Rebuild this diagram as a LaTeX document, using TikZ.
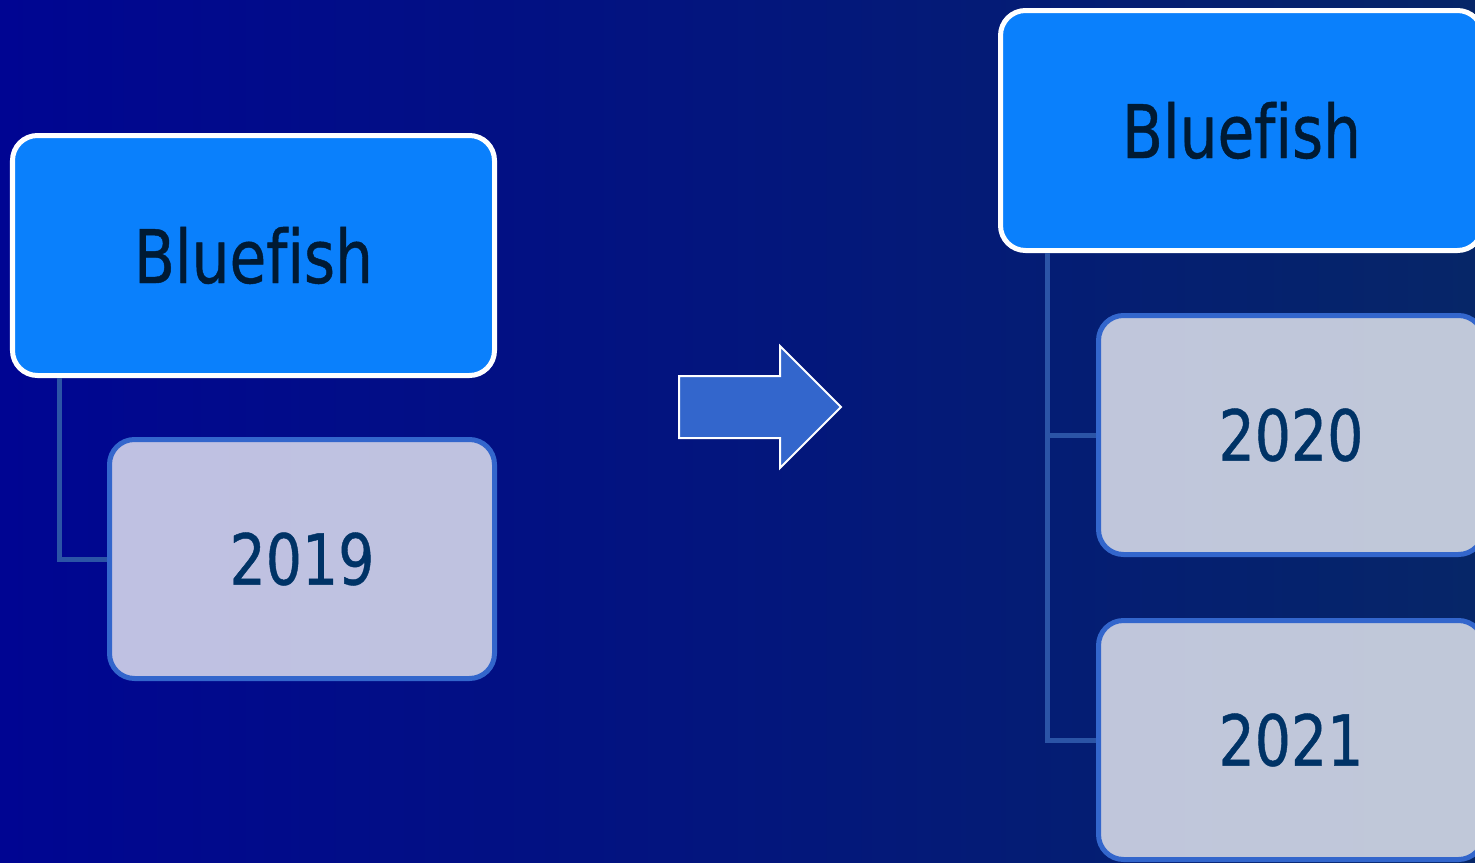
\documentclass[tikz,border=0pt]{standalone}
\usepackage{fontspec}
\setmainfont{DejaVu Sans}[FakeStretch=0.81, FakeBold=0.6, Ligatures=NoCommon]
\usetikzlibrary{shapes.arrows}
\definecolor{bgleft}{HTML}{000592}
\definecolor{bgright}{HTML}{062668}
\definecolor{fishblue}{HTML}{0A80FC}
\definecolor{fishtext}{HTML}{001A33}
\definecolor{yearedge}{HTML}{3366CC}
\definecolor{yeartext}{HTML}{003366}
\definecolor{branchblue}{HTML}{2B54A6}
\definecolor{arrowblue}{HTML}{3366CC}
\tikzset{fishbox/.style={rounded corners=0.25cm, draw=white, line width=0.05cm, fill=fishblue, text=fishtext, minimum width=4.82cm, minimum height=2.40cm, font=\fontsize{21}{25}\selectfont}}
\tikzset{yearbox/.style={rounded corners=0.25cm, draw=yearedge, line width=0.05cm, fill=white, fill opacity=0.75, text opacity=1, text=yeartext, minimum width=3.85cm, minimum height=2.39cm, font=\fontsize{20}{24}\selectfont}}
\tikzset{branch/.style={draw=branchblue, line width=0.05cm}}
\tikzset{bigarrow/.style={single arrow, draw=white, line width=0.02cm, fill=arrowblue, inner sep=0.3cm, minimum height=1.62cm, minimum width=1.2cm, single arrow head extend=0.3cm, single arrow tip angle=90}}

\begin{document}
\begin{tikzpicture}
		\shade[left color=bgleft, right color=bgright] (0,0) rectangle (14.75,8.62);
		\useasboundingbox (0,0) rectangle (14.75,8.62);
		\clip (0,0) rectangle (14.75,8.62);
		
		% before
		\node[fishbox] (fish1) at (2.535,6.065){Bluefish};
		\node[yearbox] (y2019) at (3.02,3.03){2019};
		\draw[branch] ([xshift=0.49cm]fish1.south west) |- (y2019.west);
		
		\node[bigarrow, anchor=tail] (step) at (6.78,4.55){};
		
		% after
		\node[fishbox] (fish2) at (12.415,7.315){Bluefish};
		\node[yearbox] (y2020) at (12.91,4.27){2020};
		\node[yearbox] (y2021) at (12.91,1.22){2021};
		\draw[branch] ([xshift=0.49cm]fish2.south west) |- (y2021.west);
		\draw[branch] ([xshift=0.49cm]fish2.south west) |- (y2020.west);
\end{tikzpicture}
\end{document}
